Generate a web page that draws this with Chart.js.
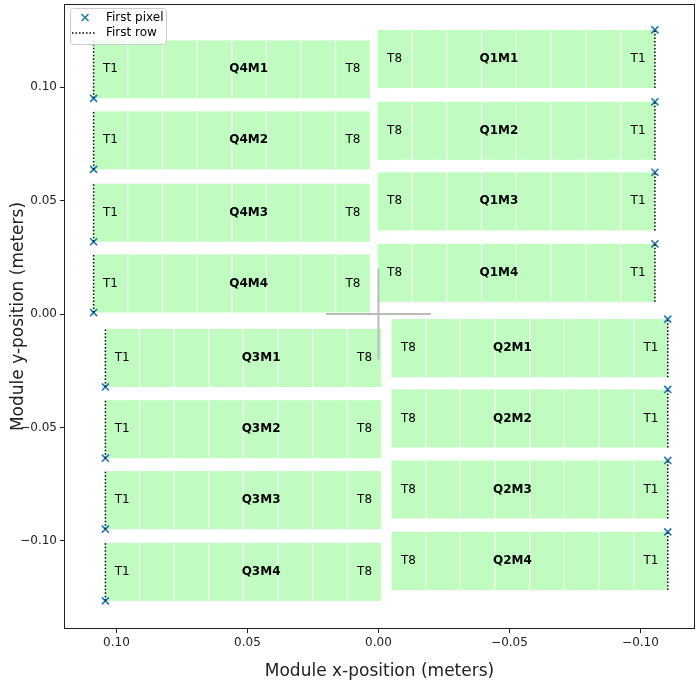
<!DOCTYPE html>
<html>
<head>
<meta charset="utf-8">
<script src="https://cdn.jsdelivr.net/npm/chart.js@4"></script>
<style>
  html, body { margin: 0; padding: 0; background: #fff; }
  #geom { display: block; }
</style>
</head>
<body>
<canvas id="geom" width="699" height="685"></canvas>
<script>
// --- data (meters) ---
const moduleNames = ['Q1M1', 'Q1M2', 'Q1M3', 'Q1M4', 'Q2M1', 'Q2M2', 'Q2M3', 'Q2M4',
                     'Q3M1', 'Q3M2', 'Q3M3', 'Q3M4', 'Q4M1', 'Q4M2', 'Q4M3', 'Q4M4'];
// x of the first-row edge (T1 side) and of the far edge (T8 side)
const moduleFirstX = [-0.1055, -0.1055, -0.1055, -0.1055, -0.1104, -0.1104, -0.1104, -0.1104,
                       0.1042,  0.1042,  0.1042,  0.1042,  0.1087,  0.1087,  0.1087,  0.1087];
const moduleLastX  = [ 0.0003,  0.0003,  0.0003,  0.0003, -0.0050, -0.0050, -0.0050, -0.0050,
                      -0.0011, -0.0011, -0.0011, -0.0011,  0.0033,  0.0033,  0.0033,  0.0033];
const moduleBottom = [ 0.0997,  0.0680,  0.0369,  0.0054, -0.0278, -0.0588, -0.0901, -0.1216,
                      -0.0321, -0.0635, -0.0948, -0.1264,  0.0951,  0.0638,  0.0319,  0.0007];
const moduleTop    = [ 0.1253,  0.0936,  0.0625,  0.0310, -0.0022, -0.0332, -0.0645, -0.0960,
                      -0.0065, -0.0379, -0.0692, -0.1008,  0.1207,  0.0894,  0.0575,  0.0263];
// y of the first pixel marker
const firstPixelY  = [ 0.1253,  0.0936,  0.0625,  0.0310, -0.0022, -0.0332, -0.0645, -0.0960,
                      -0.0321, -0.0635, -0.0948, -0.1264,  0.0951,  0.0638,  0.0319,  0.0007];
// x where the bold module name sits
const moduleLabelX = [-0.0460, -0.0460, -0.0460, -0.0460, -0.0511, -0.0511, -0.0511, -0.0511,
                       0.0448,  0.0448,  0.0448,  0.0448,  0.0495,  0.0495,  0.0495,  0.0495];
const tileCount = 8;
const tileGap = 0.0004;
const tileNames = ['T1', 'T8'];

const crossX = [-0.02, 0.02];
const crossY = [-0.02, 0.02];

const xTicks = [0.10, 0.05, 0.00, -0.05, -0.10];
const yTicks = [-0.10, -0.05, 0.00, 0.05, 0.10];
const xRange = [-0.1208, 0.1200];
const yRange = [-0.1388, 0.1367];

const GREEN = '#c0fcc0';
const BLUE = '#1f77b4';
const FONT = "'DejaVu Sans', sans-serif";

Chart.defaults.font.family = FONT;
Chart.defaults.color = '#000';

function fmtTick(v) {
    return v.toFixed(2).replace('-', '\u2212');
}

// tiles + labels, through the chart's scales
const tilesPlugin = {
    id: 'tiles',
    beforeDatasetsDraw(chart) {
        const { ctx, scales: { x, y } } = chart;
        ctx.save();
        moduleNames.forEach((name, m) => {
            const x0 = moduleFirstX[m], x1 = moduleLastX[m];
            const dir = Math.sign(x1 - x0);
            const tw = (Math.abs(x1 - x0) - (tileCount - 1) * tileGap) / tileCount;
            const yb = y.getPixelForValue(moduleBottom[m]);
            const yt = y.getPixelForValue(moduleTop[m]);
            const centers = [];
            for (let t = 0; t < tileCount; t++) {
                const a = x0 + dir * t * (tw + tileGap);
                const b = a + dir * tw;
                const pa = x.getPixelForValue(a), pb = x.getPixelForValue(b);
                ctx.fillStyle = GREEN;
                ctx.fillRect(Math.min(pa, pb), yt, Math.abs(pb - pa), yb - yt);
                centers.push((pa + pb) / 2);
            }
            const yc = (yt + yb) / 2;
            ctx.fillStyle = '#000';
            ctx.textAlign = 'center';
            ctx.textBaseline = 'middle';
            ctx.font = '12px ' + FONT;
            ctx.fillText(tileNames[0], centers[0], yc);
            ctx.fillText(tileNames[1], centers[tileCount - 1], yc);
            ctx.font = 'bold 12px ' + FONT;
            ctx.fillText(name, x.getPixelForValue(moduleLabelX[m]), yc);
        });
        ctx.restore();
    },
    afterDatasetsDraw(chart) {
        const { ctx, chartArea: a } = chart;
        ctx.save();
        ctx.strokeStyle = '#222';
        ctx.lineWidth = 1;
        ctx.strokeRect(a.left + 0.5, a.top + 0.5, a.right - a.left - 1, a.bottom - a.top - 1);

        // legend box, upper left
        const lx = a.left + 6, ly = a.top + 4, lw = 96, lh = 36;
        ctx.fillStyle = 'rgba(255,255,255,0.8)';
        ctx.strokeStyle = '#cccccc';
        ctx.beginPath();
        ctx.roundRect(lx + 0.5, ly + 0.5, lw, lh, 3);
        ctx.fill();
        ctx.stroke();

        ctx.strokeStyle = BLUE;
        ctx.lineWidth = 1.6;
        const mx = lx + 15, my = ly + 9.5, r = 3.5;
        ctx.beginPath();
        ctx.moveTo(mx - r, my - r); ctx.lineTo(mx + r, my + r);
        ctx.moveTo(mx - r, my + r); ctx.lineTo(mx + r, my - r);
        ctx.stroke();

        ctx.strokeStyle = '#000';
        ctx.lineWidth = 1.5;
        ctx.setLineDash([1.5, 2]);
        ctx.beginPath();
        ctx.moveTo(lx + 2, ly + 25); ctx.lineTo(lx + 25, ly + 25);
        ctx.stroke();
        ctx.setLineDash([]);

        ctx.fillStyle = '#000';
        ctx.font = '12px ' + FONT;
        ctx.textAlign = 'left';
        ctx.textBaseline = 'middle';
        ctx.fillText('First pixel', lx + 36, my);
        ctx.fillText('First row', lx + 36, ly + 25);
        ctx.restore();
    }
};

const datasets = [];
datasets.push({
    label: 'cross-h',
    data: crossX.map(v => ({ x: v, y: 0 })),
    showLine: true, borderColor: '#bbbbbb', borderWidth: 2, pointRadius: 0
});
datasets.push({
    label: 'cross-v',
    data: crossY.map(v => ({ x: 0, y: v })),
    showLine: true, borderColor: '#bbbbbb', borderWidth: 2, pointRadius: 0
});
moduleNames.forEach((name, m) => {
    datasets.push({
        label: 'First row ' + name,
        data: [{ x: moduleFirstX[m], y: moduleBottom[m] }, { x: moduleFirstX[m], y: moduleTop[m] }],
        showLine: true, borderColor: '#000', borderWidth: 1.5,
        borderDash: [1.5, 2], pointRadius: 0
    });
});
datasets.push({
    label: 'First pixel',
    data: moduleNames.map((n, m) => ({ x: moduleFirstX[m], y: firstPixelY[m] })),
    pointStyle: 'crossRot', pointRadius: 5, borderColor: BLUE,
    backgroundColor: BLUE, pointBorderWidth: 1.6
});

const axisCommon = {
    type: 'linear',
    grid: { drawOnChartArea: false, drawTicks: true, tickLength: 4, color: '#222' },
    border: { display: false },
    ticks: { font: { size: 12 }, color: '#222', padding: 3, callback: v => fmtTick(v) }
};

new Chart(document.getElementById('geom'), {
    type: 'scatter',
    data: { datasets },
    options: {
        responsive: false,
        animation: false,
        layout: { autoPadding: false, padding: { top: 4, right: 4, left: 0, bottom: 0 } },
        plugins: { legend: { display: false }, tooltip: { enabled: false } },
        scales: {
            x: {
                ...axisCommon,
                reverse: true,
                min: xRange[0], max: xRange[1],
                afterBuildTicks: axis => { axis.ticks = xTicks.map(v => ({ value: v })); },
                afterFit: axis => { axis.height = 56; axis.paddingLeft = 0; axis.paddingRight = 0; },
                title: { display: true, text: 'Module x-position (meters)',
                         font: { size: 17 }, color: '#222', padding: { top: 0, bottom: 3 } }
            },
            y: {
                ...axisCommon,
                min: yRange[0], max: yRange[1],
                afterBuildTicks: axis => { axis.ticks = yTicks.map(v => ({ value: v })); },
                afterFit: axis => { axis.width = 64; axis.paddingTop = 0; axis.paddingBottom = 0; },
                title: { display: true, text: 'Module y-position (meters)',
                         font: { size: 17 }, color: '#222', padding: { top: 8, bottom: 0 } }
            }
        }
    },
    plugins: [tilesPlugin]
});
</script>
</body>
</html>
